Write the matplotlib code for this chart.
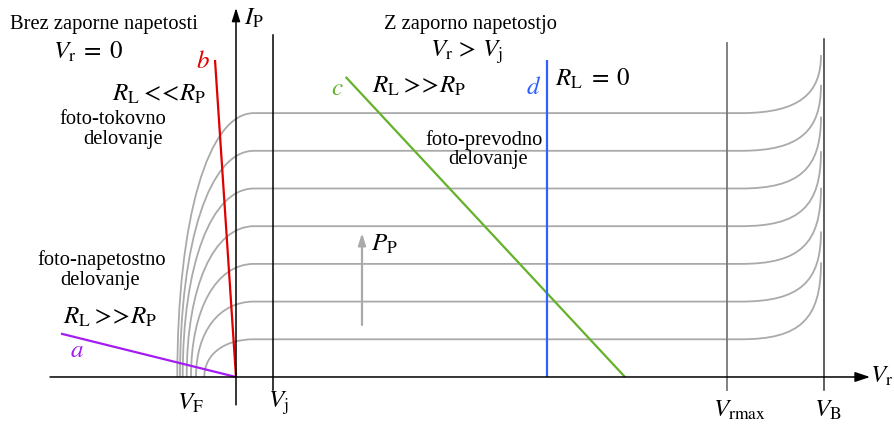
import matplotlib
matplotlib.use('Agg')
import matplotlib.pyplot as plt
from matplotlib.path import Path
from matplotlib.patches import PathPatch

plt.rcParams['font.family'] = ['Liberation Serif', 'DejaVu Serif']
plt.rcParams['mathtext.fontset'] = 'stix'

# photocurrent levels (one per illumination step), bottom to top
levels = [1, 2, 3, 4, 5, 6, 7]
# open-circuit voltage of each curve (forward side, negative direction)
v_oc = [-3.17, -4.0, -4.5, -4.93, -5.33, -5.6, -5.87]
# current rise at the breakdown end of each curve
rise = [2.04, 1.86, 2.02, 1.99, 1.91, 1.75, 1.54]

v_j = 3.7
v_rmax = 49.1
v_b = 58.8
v_knee = 50.5      # where avalanche starts to bend the curves
v_end = 58.5       # last drawn point of every curve

# load lines: (x0, y0, x1, y1)
load_a = [-17.5, 1.15, 0.0, 0.0]
load_b = [-2.1, 8.41, 0.0, 0.0]
load_c = [10.97, 7.96, 38.9, 0.0]
load_d = [31.1, 8.41, 31.1, 0.0]

col_a = '#a31cf2'
col_b = '#e00000'
col_c = '#64b22a'
col_d = '#3060ff'
gray = '#aaaaaa'

fig = plt.figure(figsize=(8.95, 4.24), dpi=100)
ax = fig.add_axes([0, 0, 1, 1])
ax.set_xlim(-23.6, 65.9)
ax.set_ylim(-1.247, 10.0)
ax.axis('off')

# diode characteristics
for L, vo, r in zip(levels, v_oc, rise):
    w = -vo + 1.8
    verts = [(vo, 0), (vo, 0.6 * L), (vo + 0.4 * w, L), (vo + w, L),
             (v_knee, L),
             (56.4, L), (v_end, L + 0.53), (v_end, L + r)]
    codes = [Path.MOVETO, Path.CURVE4, Path.CURVE4, Path.CURVE4,
             Path.LINETO,
             Path.CURVE4, Path.CURVE4, Path.CURVE4]
    ax.add_patch(PathPatch(Path(verts, codes), fc='none', ec=gray, lw=1.3))

# reference voltages
ax.plot([v_j, v_j], [-0.345, 9.07], color='black', lw=1.1)
ax.plot([v_rmax, v_rmax], [-0.345, 8.86], color='#777777', lw=1.3)
ax.plot([v_b, v_b], [-0.345, 8.97], color='#333333', lw=1.1)

# axes with arrows
ax.annotate('', xy=(63.4, 0), xytext=(-18.6, 0),
            arrowprops=dict(arrowstyle='-|>,head_length=0.9,head_width=0.3',
                            color='black', lw=1.1, shrinkA=0, shrinkB=0))
ax.annotate('', xy=(0, 9.79), xytext=(0, -0.74),
            arrowprops=dict(arrowstyle='-|>,head_length=0.8,head_width=0.25',
                            color='black', lw=1.1, shrinkA=0, shrinkB=0))

# load lines
for (x0, y0, x1, y1), c in zip([load_a, load_b, load_c, load_d],
                               [col_a, col_b, col_c, col_d]):
    ax.plot([x0, x1], [y0, y1], color=c, lw=1.6, solid_capstyle='butt')

# increasing optical power
ax.annotate('', xy=(12.6, 3.82), xytext=(12.6, 1.38),
            arrowprops=dict(arrowstyle='-|>,head_length=0.7,head_width=0.22',
                            color=gray, lw=1.6, shrinkA=0, shrinkB=0))

fs = 14.8
fm = 18
kw = dict(ha='center', va='center')
ax.text(-13.2, 9.36, 'Brez zaporne napetosti', fontsize=fs, **kw)
ax.text(-14.8, 8.62, r'$V_{\mathrm{r}}\;=\;0$', fontsize=fm, **kw)
ax.text(-12.3, 6.82, 'foto-tokovno', fontsize=fs, **kw)
ax.text(-11.3, 6.31, 'delovanje', fontsize=fs, **kw)
ax.text(-7.7, 7.51, r'$R_{\mathrm{L}}<\!\!<\!R_{\mathrm{P}}$', fontsize=fm, **kw)
ax.text(-3.3, 8.36, r'$b$', fontsize=fm, color=col_b, **kw)
ax.text(-13.4, 3.10, 'foto-napetostno', fontsize=fs, **kw)
ax.text(-13.6, 2.57, 'delovanje', fontsize=fs, **kw)
ax.text(-12.6, 1.59, r'$R_{\mathrm{L}}>\!\!>\!R_{\mathrm{P}}$', fontsize=fm, **kw)
ax.text(-15.9, 0.69, r'$a$', fontsize=fm, color=col_a, **kw)

ax.text(23.5, 9.34, 'Z zaporno napetostjo', fontsize=fs, **kw)
ax.text(23.1, 8.62, r'$V_{\mathrm{r}}\,>\,V_{\mathrm{j}}$', fontsize=fm, **kw)
ax.text(10.1, 7.64, r'$c$', fontsize=fm, color=col_c, **kw)
ax.text(18.3, 7.72, r'$R_{\mathrm{L}}>\!\!>\!R_{\mathrm{P}}$', fontsize=fm, **kw)
ax.text(29.8, 7.67, r'$d$', fontsize=fm, color=col_d, **kw)
ax.text(35.7, 7.90, r'$R_{\mathrm{L}}\;=\;0$', fontsize=fm, **kw)
ax.text(24.8, 6.29, 'foto-prevodno', fontsize=fs, **kw)
ax.text(25.2, 5.76, 'delovanje', fontsize=fs, **kw)
ax.text(14.8, 3.53, r'$P_{\mathrm{P}}$', fontsize=fm, **kw)

ax.text(1.8, 9.52, r'$I_{\mathrm{P}}$', fontsize=fm, **kw)
ax.text(64.6, 0.03, r'$V_{\mathrm{r}}$', fontsize=fm, **kw)
ax.text(-4.6, -0.69, r'$V_{\mathrm{F}}$', fontsize=fm, **kw)
ax.text(4.2, -0.69, r'$V_{\mathrm{j}}$', fontsize=fm, **kw)
ax.text(50.3, -0.88, r'$V_{\mathrm{rmax}}$', fontsize=fm, **kw)
ax.text(59.2, -0.88, r'$V_{\mathrm{B}}$', fontsize=fm, **kw)

fig.savefig('out.png', dpi=100)
